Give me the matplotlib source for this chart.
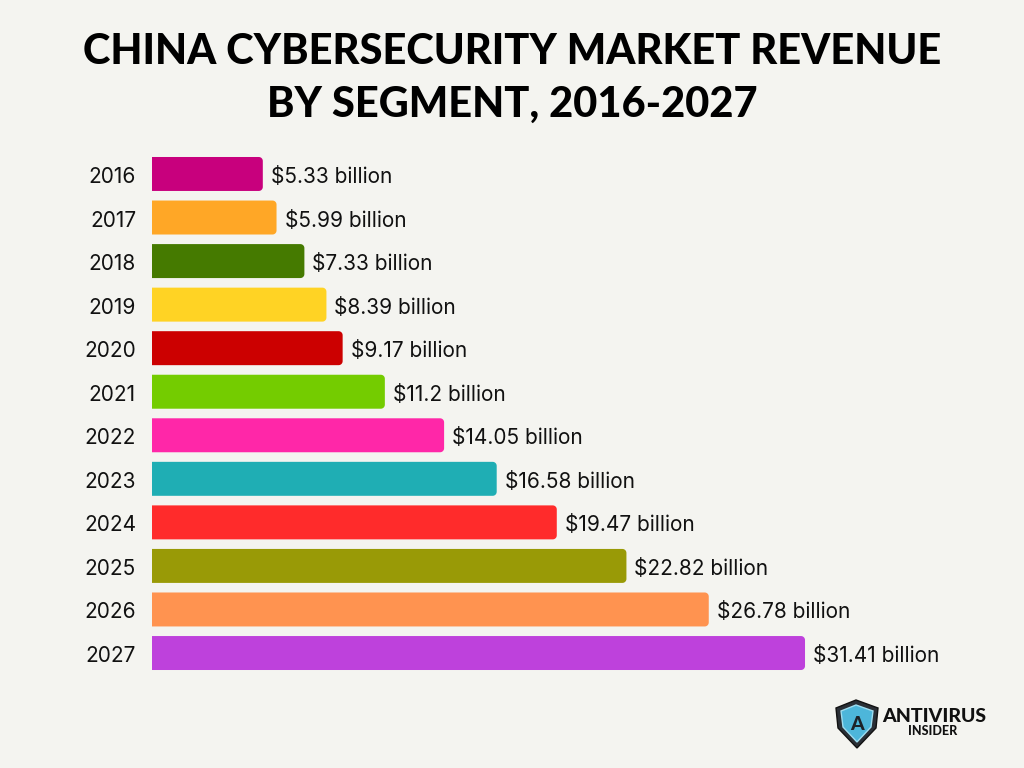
import numpy as np
import matplotlib.pyplot as plt
from matplotlib.patches import Polygon

years = ["2016", "2017", "2018", "2019", "2020", "2021",
         "2022", "2023", "2024", "2025", "2026", "2027"]
revenue = [5.33, 5.99, 7.33, 8.39, 9.17, 11.2,
           14.05, 16.58, 19.47, 22.82, 26.78, 31.41]
labels = ["$5.33 billion", "$5.99 billion", "$7.33 billion", "$8.39 billion",
          "$9.17 billion", "$11.2 billion", "$14.05 billion", "$16.58 billion",
          "$19.47 billion", "$22.82 billion", "$26.78 billion", "$31.41 billion"]
colors = ["#C8007D", "#FFA726", "#457A00", "#FFD324", "#CC0000", "#74CC00",
          "#FF27A8", "#1FAEB4", "#FF2B2B", "#999A06", "#FF9350", "#BE41DC"]

bg = "#F4F4F0"
W, H = 1024, 768
fig = plt.figure(figsize=(10.24, 7.68), dpi=100, facecolor=bg)

# axes placed so that value 0 sits at x=152px and rows run 174..653px
left, right = 152, 1000
top, bottom = 152.2, 674.8
ax = fig.add_axes([left / W, 1 - bottom / H, (right - left) / W, (bottom - top) / H])
ax.set_facecolor(bg)
px_per_unit = 20.79
ax.set_xlim(0, (right - left) / px_per_unit)
ax.set_ylim(len(years) - 0.5, -0.5)
ax.axis("off")

bar_h = 0.78
ypx = (bottom - top) / len(years)
rx = 4 / px_per_unit
ry = 4 / ypx


def bar_shape(v, i):
    # square on the left, rounded corners on the right
    y0, y1 = i - bar_h / 2, i + bar_h / 2
    t = np.linspace(0, np.pi / 2, 8)
    pts = [(0, y0)]
    pts += [(v - rx + rx * np.sin(a), y0 + ry - ry * np.cos(a)) for a in t]
    pts += [(v - rx + rx * np.cos(a), y1 - ry + ry * np.sin(a)) for a in t]
    pts.append((0, y1))
    return pts


for i, (v, c, lab, yr) in enumerate(zip(revenue, colors, labels, years)):
    ax.add_patch(Polygon(bar_shape(v, i), closed=True, fc=c, ec="none"))
    ax.text(v + 8 / px_per_unit, i + 3 / ypx, lab, va="center", ha="left",
            fontsize=15, family="Inter", color="#111111")
    ax.text(-16 / px_per_unit, i + 3 / ypx, yr, va="center", ha="right",
            fontsize=15, family="Inter", color="#111111", clip_on=False)

fig.text(0.5, 1 - 52 / H, "CHINA CYBERSECURITY MARKET REVENUE", ha="center",
         va="center", fontsize=30, family="Lato", fontweight="black", color="#000000")
fig.text(0.5, 1 - 105 / H, "BY SEGMENT, 2016-2027", ha="center",
         va="center", fontsize=30, family="Lato", fontweight="black", color="#000000")

# logo
lax = fig.add_axes([0, 0, 1, 1], facecolor="none")
lax.set_xlim(0, W)
lax.set_ylim(H, 0)
lax.axis("off")
outer = [(836, 708), (856, 700), (878, 708), (876, 728), (857, 748), (838, 728)]
inner = [(841, 711), (856, 705), (873, 711), (871, 727), (857, 742), (843, 727)]
lax.add_patch(Polygon(outer, closed=True, fc="#2A2F36", ec="#111111", lw=1))
lax.add_patch(Polygon(inner, closed=True, fc="#4DB6DA", ec="#9FDDF0", lw=1))
lax.text(857, 724, "A", ha="center", va="center", fontsize=14,
         fontweight="black", family="Lato", color="#1D2228")
lax.text(934, 717, "ANTIVIRUS", ha="center", va="center", fontsize=14,
         fontweight="black", family="Lato", color="#111111")
lax.text(933, 731, "INSIDER", ha="center", va="center", fontsize=9,
         fontweight="black", family="Lato", color="#111111")

fig.savefig("out.png", dpi=100, facecolor=bg)
